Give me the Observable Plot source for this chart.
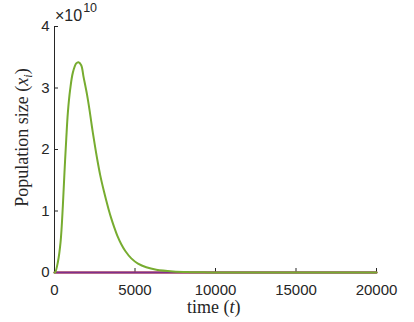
<!DOCTYPE html>
<html><head><meta charset="utf-8">
<script src="https://cdn.jsdelivr.net/npm/d3@7"></script>
<script src="https://cdn.jsdelivr.net/npm/@observablehq/plot@0.6"></script>
<style>body{margin:0;background:#fff} svg{display:block}</style>
</head><body><div id="chart"></div>
<script>
// time axis (t)
const time = [0, 40, 210, 375, 520, 620, 730, 830, 975, 1140, 1350, 1490, 1660, 1804, 2015, 2177, 2326, 2488, 2655, 2842, 3070, 3215, 3358, 3526, 3690, 3900, 4148, 4397, 4770, 5186, 5700, 6325, 7360, 8400, 9500, 11000, 20000];
// green population (units of 10^10)
const popGreen = [0, 0, 0.17, 0.49, 1.09, 1.63, 2.17, 2.60, 2.98, 3.25, 3.40, 3.42, 3.37, 3.18, 2.90, 2.64, 2.37, 2.10, 1.84, 1.58, 1.32, 1.17, 1.03, 0.88, 0.75, 0.60, 0.46, 0.35, 0.23, 0.145, 0.085, 0.045, 0.017, 0.006, 0.002, 0, 0];
// other populations stay at ~0 over the whole run
const timeFlat = [0, 20000];
const popOrange = [0, 0];
const popPurple = [0, 0];
const xTicks = [0, 5000, 10000, 15000, 20000];
const yTicks = [0, 1, 2, 3, 4];

const rows = (ts, vs, s) => ts.map((t, i) => ({t, v: vs[i], s}));
const orange = rows(timeFlat, popOrange, "orange");
const purple = rows(timeFlat, popPurple, "purple");
const green = rows(time, popGreen, "green");

const ink = "#262626";
const plot = Plot.plot({
  width: 414, height: 322,
  marginLeft: 54, marginRight: 38, marginTop: 26, marginBottom: 50,
  style: {fontFamily: "'Liberation Sans', Arial, sans-serif", fontSize: "15px", color: ink, background: "#fff"},
  x: {domain: [0, 20000]},
  y: {domain: [0, 4]},
  marks: [
    Plot.axisX(xTicks, {tickSize: -4, tickPadding: 16, label: null, tickFormat: d3.format("d"), stroke: ink}),
    Plot.axisY(yTicks, {tickSize: -4, tickPadding: 9, label: null, tickFormat: d3.format("d"), stroke: ink}),
    Plot.ruleX([0], {stroke: ink}),
    Plot.ruleY([0], {stroke: ink}),
    Plot.line(orange, {x: "t", y: "v", stroke: "#D95319", strokeWidth: 2}),
    Plot.line(purple, {x: "t", y: "v", stroke: "#7E2F8E", strokeWidth: 2}),
    Plot.line(green, {x: "t", y: "v", stroke: "#77AC30", strokeWidth: 2, curve: "catmull-rom"})
  ]
});
document.getElementById("chart").appendChild(plot);

const svg = d3.select(plot);
const serif = "'Liberation Serif', 'Times New Roman', serif";
// exponent label
const ex = svg.append("text").attr("x", 55).attr("y", 20.7).attr("text-anchor", "start")
  .style("font-family", "'Liberation Sans', Arial, sans-serif").style("font-size", "16px").attr("fill", ink);
ex.append("tspan").text("×10");
ex.append("tspan").attr("dy", -8.5).attr("dx", 1).style("font-size", "12.5px").text("10");
// x label
const xl = svg.append("text").attr("x", 213.7).attr("y", 313.3).attr("text-anchor", "middle")
  .style("font-family", serif).style("font-size", "18px").attr("fill", ink);
xl.append("tspan").text("time (");
xl.append("tspan").style("font-style", "italic").text("t");
xl.append("tspan").text(")");
// y label
const yl = svg.append("text").attr("transform", "translate(27.7,137.5) rotate(-90)").attr("text-anchor", "middle")
  .style("font-family", serif).style("font-size", "18px").attr("fill", ink);
yl.append("tspan").text("Population size (");
yl.append("tspan").style("font-style", "italic").text("x");
yl.append("tspan").style("font-style", "italic").style("font-size", "12px").attr("dy", 4).text("i");
yl.append("tspan").attr("dy", -4).text(")");
</script>
</body></html>
